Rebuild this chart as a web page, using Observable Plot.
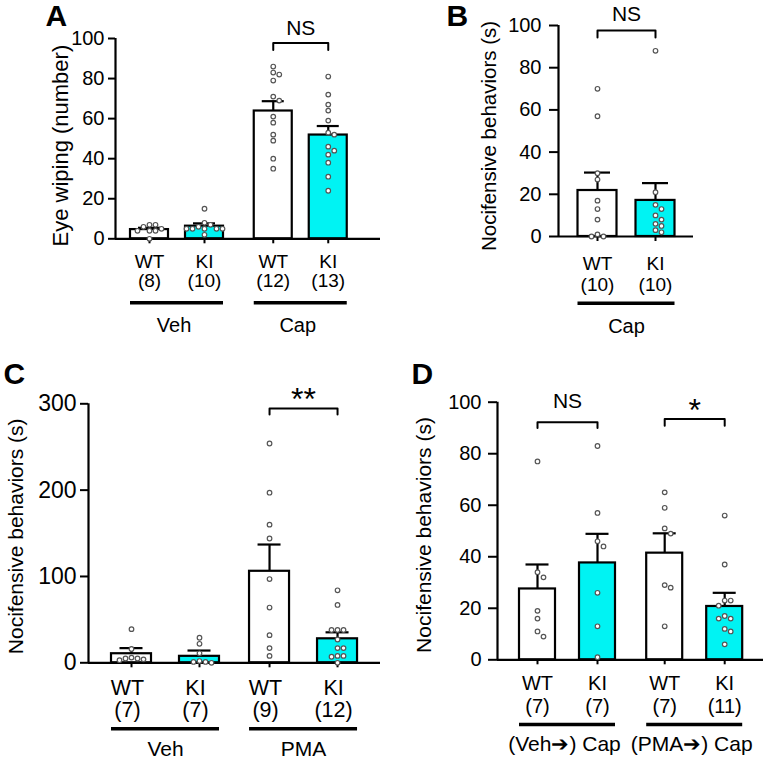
<!DOCTYPE html>
<html><head><meta charset="utf-8">
<script src="https://cdn.jsdelivr.net/npm/d3@7"></script>
<script src="https://cdn.jsdelivr.net/npm/@observablehq/plot@0.6"></script>
<style>
body{margin:0;background:#fff;}
#fig{position:relative;width:766px;height:759px;overflow:hidden;background:#fff;font-family:"Liberation Sans",Arial,sans-serif;}
#fig > div{position:absolute;}
#fig svg{display:block;overflow:visible;}
</style></head><body><div id="fig"></div>
<script>
// ---------- Panel A data ----------
const aGroups = ["Veh","Veh","Cap","Cap"];
const aGenotypes = ["WT","KI","WT","KI"];
const aN = ["(8)","(10)","(12)","(13)"];
const aMeans = [4.6, 6.3, 63.8, 51.8];
const aSems = [0.9, 1.4, 4.9, 4.5];
const aPoints = [
  [7,6,4,5,7,4,4,0],
  [15,8,7,6,5,5,5,5,5,2],
  [86,83,82,79,71,69,61,58,52,49,40,35],
  [81,72,67,64,59,53,52,46,44,42,38,31,24]
];
const aYTicks = [0,20,40,60,80,100];
const aYLabel = "Eye wiping (number)";
const aBrackets = [{from:2, to:3, label:"NS"}];

// ---------- Panel B data ----------
const bGroups = ["Cap","Cap"];
const bGenotypes = ["WT","KI"];
const bN = ["(10)","(10)"];
const bMeans = [21.8, 17.1];
const bSems = [8.5, 8.2];
const bPoints = [
  [70,57,30,27,17,13,8,1,0,0],
  [88,21,15,13,10,8,6,5,3,2]
];
const bYTicks = [0,20,40,60,80,100];
const bYLabel = "Nocifensive behaviors (s)";
const bBrackets = [{from:0, to:1, label:"NS"}];

// ---------- Panel C data ----------
const cGroups = ["Veh","Veh","PMA","PMA"];
const cGenotypes = ["WT","KI","WT","KI"];
const cN = ["(7)","(7)","(9)","(12)"];
const cMeans = [10.5, 7.5, 106, 27.8];
const cSems = [6.5, 6.7, 31, 7.5];
const cPoints = [
  [39,16,6,5,5,4,3],
  [29,22,11,2,1,1,0],
  [254,197,160,144,97,64,32,17,8],
  [84,67,38,38,38,27,17,17,8,8,7,0]
];
const cYTicks = [0,100,200,300];
const cYLabel = "Nocifensive behaviors (s)";
const cBrackets = [{from:2, to:3, label:"**"}];

// ---------- Panel D data ----------
const dGroups = ["(Veh\u2794) Cap","(Veh\u2794) Cap","(PMA\u2794) Cap","(PMA\u2794) Cap"];
const dGenotypes = ["WT","KI","WT","KI"];
const dN = ["(7)","(7)","(7)","(11)"];
const dMeans = [27.5, 37.6, 41.4, 20.7];
const dSems = [9.5, 11.3, 7.7, 5.3];
const dPoints = [
  [77,34,32,19,16,11,9],
  [83,57,46,44,26,13,1],
  [65,59,51,49,29,28,13],
  [56,37,23,23,21,17,16,16,12,11,6]
];
const dYTicks = [0,20,40,60,80,100];
const dYLabel = "Nocifensive behaviors (s)";
const dBrackets = [{from:0, to:1, label:"NS"}, {from:2, to:3, label:"*"}];

const CYAN = "#00F3F3";
const FONT = "'Liberation Sans', Arial, Helvetica, sans-serif";

function makePanel(d, L) {
  const groupNames = [...new Set(d.groups)];
  const gi = d.groups.map(g => groupNames.indexOf(g));
  const pos = d.groups.map((g, i) => i + gi[i] * L.groupGap);
  const plotW = L.width - L.marginLeft - L.marginRight;
  const plotH = L.height - L.marginTop - L.marginBottom;
  const d0 = -L.offset / L.unit;
  const d1 = d0 + plotW / L.unit;
  const hw = L.barW / 2 / L.unit;
  const capHw = L.capW / 2 / L.unit;
  const pxPerY = plotH / L.yMax;

  const rows = d.genotypes.map((g, i) => ({
    pos: pos[i], genotype: g, n: d.ns[i], group: d.groups[i],
    mean: d.means[i], top: d.means[i] + d.sems[i]
  }));

  // simple deterministic dodge so overlapping dots sit side by side
  const dots = [];
  const step = 6;
  d.points.forEach((vals, i) => {
    const placed = [];
    [...vals].sort((a, b) => b - a).forEach(v => {
      const ypx = v * pxPerY;
      const cand = [0];
      for (let j = 1; j < 10; j++) cand.push(j, -j);
      let off = 0;
      for (const c of cand) {
        const xpx = c * step;
        if (placed.every(p => Math.hypot(p.x - xpx, p.y - ypx) >= step)) { off = xpx; break; }
      }
      placed.push({x: off, y: ypx});
      dots.push({x: pos[i] + off / L.unit, y: v});
    });
  });

  const groups = groupNames.map(g => {
    const r = rows.filter(q => q.group === g);
    const a = r[0].pos, b = r[r.length - 1].pos;
    return {label: g, x1: a - hw, x2: b + hw, mid: (a + b) / 2};
  });

  const brackets = d.brackets.map((b, k) => ({
    ...b, ...L.brackets[k], x1: pos[b.from], x2: pos[b.to], mid: (pos[b.from] + pos[b.to]) / 2
  }));
  const bracketPts = brackets.flatMap((b, k) => [
    {k, x: b.x1, y: b.level - b.drop},
    {k, x: b.x1, y: b.level},
    {k, x: b.x2, y: b.level},
    {k, x: b.x2, y: b.level - b.drop}
  ]);

  const sw = 2.2;
  const marks = [
    Plot.rectY(rows, {x1: r => r.pos - hw, x2: r => r.pos + hw, y: "mean",
      fill: r => r.genotype === "KI" ? CYAN : "white", stroke: "black", strokeWidth: sw}),
    Plot.ruleX(rows, {x: "pos", y1: "mean", y2: "top", stroke: "black", strokeWidth: sw}),
    Plot.ruleY(rows, {y: "top", x1: r => r.pos - capHw, x2: r => r.pos + capHw, stroke: "black", strokeWidth: sw}),
    Plot.ruleX([d0], {y1: 0, y2: L.yMax, stroke: "black", strokeWidth: sw}),
    Plot.ruleY([0], {stroke: "black", strokeWidth: sw}),
    Plot.axisY({ticks: d.yTicks, tickSize: L.tickSize, tickPadding: L.tickPadding,
      fontSize: L.tickFont, strokeWidth: 2, label: null}),
    Plot.axisX({ticks: pos, tickSize: 5, tickFormat: () => "", strokeWidth: 2, label: null}),
    Plot.dot(dots, {x: "x", y: "y", r: 2.3, fill: "white", stroke: "#555", strokeWidth: 1.2}),
    Plot.text(rows, {x: "pos", text: "genotype", frameAnchor: "bottom", lineAnchor: "bottom",
      dy: L.rowDy[0], dx: L.labelDx, fontSize: L.catFont}),
    Plot.text(rows, {x: "pos", text: "n", frameAnchor: "bottom", lineAnchor: "bottom",
      dy: L.rowDy[1], dx: L.labelDx, fontSize: L.catFont}),
    Plot.ruleY(groups, {x1: "x1", x2: "x2", y: () => 0, dy: L.rowDy[2], stroke: "black", strokeWidth: 3.5}),
    Plot.text(groups, {x: "mid", text: "label", frameAnchor: "bottom", lineAnchor: "bottom",
      dy: L.rowDy[3], dx: L.groupDx, fontSize: L.groupFont}),
    Plot.line(bracketPts, {x: "x", y: "y", z: "k", stroke: "black", strokeWidth: 2}),
    ...brackets.map(b => Plot.text([b], {x: "mid", y: "level", text: "label", lineAnchor: "bottom",
      dy: b.dy, fontSize: b.fontSize})),
    Plot.text([d.yLabel], {text: t => t, frameAnchor: "left", rotate: -90, textAnchor: "middle",
      lineAnchor: "middle", dx: L.ylabDx, dy: L.ylabDy, fontSize: L.ylabFont}),
    Plot.text([L.letter.text], {text: t => t, frameAnchor: "top-left", textAnchor: "start",
      lineAnchor: "bottom", dx: L.letter.dx, dy: L.letter.dy, fontSize: 30, fontWeight: "bold"})
  ];

  const svg = Plot.plot({
    width: L.width, height: L.height,
    marginLeft: L.marginLeft, marginRight: L.marginRight,
    marginTop: L.marginTop, marginBottom: L.marginBottom,
    x: {domain: [d0, d1]},
    y: {domain: [0, L.yMax]},
    style: {fontFamily: FONT, fontSize: "20px", color: "black", background: "transparent", overflow: "visible"},
    marks
  });
  const div = document.createElement("div");
  div.style.left = L.left + "px";
  div.style.top = L.top + "px";
  div.style.width = L.width + "px";
  div.style.height = L.height + "px";
  div.appendChild(svg);
  document.getElementById("fig").appendChild(div);
}

makePanel(
  {groups: aGroups, genotypes: aGenotypes, ns: aN, means: aMeans, sems: aSems, points: aPoints,
   yTicks: aYTicks, yLabel: aYLabel, brackets: aBrackets},
  {left: 0, top: 0, width: 383, height: 340, marginLeft: 115, marginRight: 3, marginTop: 38, marginBottom: 101.7,
   yMax: 100, offset: 34, unit: 55, groupGap: 0.25, barW: 38, capW: 22,
   tickSize: 7, tickPadding: 4, tickFont: 20, catFont: 19, groupFont: 20, labelDx: 0, groupDx: -3,
   rowDy: [29, 48, 64, 93], ylabDx: -55, ylabDy: 7, ylabFont: 22,
   letter: {text: "A", dx: -70, dy: -13},
   brackets: [{level: 97.7, drop: 3.5, dy: -8, fontSize: 21}]}
);

makePanel(
  {groups: bGroups, genotypes: bGenotypes, ns: bN, means: bMeans, sems: bSems, points: bPoints,
   yTicks: bYTicks, yLabel: bYLabel, brackets: bBrackets},
  {left: 383, top: 0, width: 383, height: 340, marginLeft: 175, marginRight: 73, marginTop: 25, marginBottom: 104,
   yMax: 100, offset: 39, unit: 58, groupGap: 0, barW: 39, capW: 26,
   tickSize: 9, tickPadding: 8, tickFont: 20, catFont: 19, groupFont: 20, labelDx: 0, groupDx: 0,
   rowDy: [33, 54, 66.7, 96.6], ylabDx: -69, ylabDy: 5, ylabFont: 20.5,
   letter: {text: "B", dx: -112, dy: 0},
   brackets: [{level: 97.6, drop: 3.3, dy: -10, fontSize: 21}]}
);

makePanel(
  {groups: cGroups, genotypes: cGenotypes, ns: cN, means: cMeans, sems: cSems, points: cPoints,
   yTicks: cYTicks, yLabel: cYLabel, brackets: cBrackets},
  {left: 0, top: 340, width: 383, height: 419, marginLeft: 88, marginRight: 3, marginTop: 63.3, marginBottom: 96.7,
   yMax: 300, offset: 43, unit: 68, groupGap: 0.03, barW: 40, capW: 23,
   tickSize: 8, tickPadding: 4, tickFont: 23, catFont: 21.5, groupFont: 21, labelDx: -4, groupDx: 0,
   rowDy: [32, 54.5, 66, 93], ylabDx: -72, ylabDy: 3, ylabFont: 21,
   letter: {text: "C", dx: -85, dy: -20.3},
   brackets: [{level: 294.6, drop: 7, dy: 2, fontSize: 32}]}
);

makePanel(
  {groups: dGroups, genotypes: dGenotypes, ns: dN, means: dMeans, sems: dSems, points: dPoints,
   yTicks: dYTicks, yLabel: dYLabel, brackets: dBrackets},
  {left: 383, top: 340, width: 383, height: 419, marginLeft: 114, marginRight: 3, marginTop: 61.7, marginBottom: 99.7,
   yMax: 100, offset: 40, unit: 60, groupGap: 0.12, barW: 36, capW: 23,
   tickSize: 9, tickPadding: 7, tickFont: 20, catFont: 20, groupFont: 21, labelDx: 0, groupDx: -3,
   rowDy: [30, 53, 64.7, 91], ylabDx: -73, ylabDy: 4, ylabFont: 21,
   letter: {text: "D", dx: -86, dy: -18.7},
   brackets: [{level: 92.2, drop: 2.2, dy: -14.7, fontSize: 21}, {level: 93.5, drop: 2.6, dy: 2.3, fontSize: 32}]}
);
</script>
</body></html>
